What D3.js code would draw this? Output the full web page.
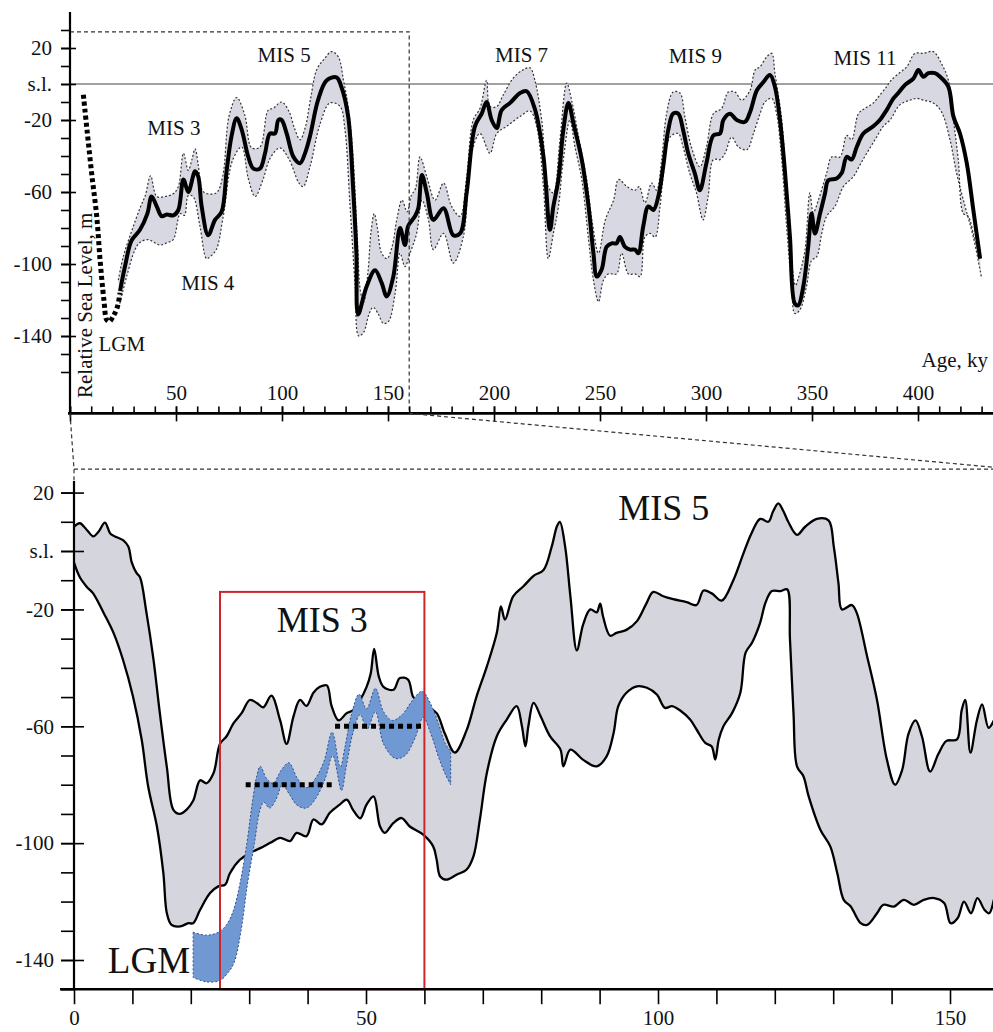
<!DOCTYPE html>
<html>
<head>
<meta charset="utf-8">
<script src="https://cdn.jsdelivr.net/npm/d3@7"></script>
<style>
  body { margin: 0; background: #ffffff; }
  svg { display: block; }
  text { font-family: "Liberation Serif", "Times New Roman", serif; fill: #111; }
</style>
</head>
<body>
<script>
// sea level curves, every point is [age in ky, relative sea level in m]

// upper panel: mean curve
var meanTop = [[23.6,-115],[26,-101],[29,-87],[33,-81],[36.5,-72],[38.5,-62.5],[40.9,-68],[43.3,-73.5],[45.6,-72.5],[48.7,-73],[51.1,-70],[53.5,-53],[55.8,-60],[59,-48.5],[60.5,-51.5],[62.1,-68],[65.2,-84],[68.4,-75.5],[71.5,-71],[73.9,-48],[76.2,-29],[78.6,-19],[81,-25.5],[84.1,-40.5],[86.5,-47],[89.6,-47],[92,-38.5],[94.3,-27.5],[96.7,-27.5],[98.3,-20],[99.8,-20],[102.2,-27.5],[105.4,-40.5],[108.5,-44],[111,-38],[113.2,-29],[117,-9],[121,2],[125.7,3.7],[128,-1.5],[131.2,-18],[133.5,-57],[135.1,-94],[135.9,-128],[139.9,-112.5],[143.9,-103.5],[147,-110.5],[149.4,-118],[152.5,-107],[155.7,-80],[158,-89.5],[159.5,-79],[162.7,-73.5],[164.3,-69],[166,-50.5],[168.3,-60.5],[171.4,-75.5],[176.2,-69],[180.8,-84],[184,-83],[187.1,-60.5],[191,-23.5],[194.2,-16.5],[196.5,-10],[198.9,-20],[201.3,-24.5],[203.6,-14.5],[207.6,-10.5],[212.3,-5],[215.4,-4],[219.3,-14],[223.3,-40],[226.4,-81],[228,-68],[230.4,-53],[232.7,-25.5],[235.1,-10.5],[237.4,-21.5],[241.4,-42],[244.6,-68],[246.9,-94],[248.5,-107],[250.8,-103],[253.1,-90.5],[255.5,-88.5],[257.8,-88.5],[259.4,-85],[261.8,-90.5],[264.2,-92],[266.5,-92],[268.1,-94],[270.4,-79],[272.8,-68],[275.2,-70],[277.5,-62.5],[279.8,-46],[282.2,-25.5],[284.5,-16.5],[286.9,-16.5],[289.2,-25.5],[291.6,-38.5],[294.7,-49.5],[297.1,-59],[300.2,-44],[303.5,-28.5],[306.6,-27.5],[308.2,-20],[311.3,-16.5],[314.5,-20],[318.4,-21],[320.8,-15.5],[324,-3.5],[327,1],[330.2,5],[332.5,-1.5],[334.9,-20],[337.2,-48],[339.6,-85],[341.9,-122],[343.5,-123],[345.9,-112.5],[348.2,-90.5],[349.8,-72],[351.4,-83],[353.8,-72],[356.1,-61],[357.7,-53.5],[361.6,-52.5],[364,-49.5],[366.4,-40.5],[368.7,-42],[371.1,-35],[374.2,-27.5],[378.9,-23.5],[382,-20],[385.2,-14.5],[388.4,-8],[390.7,-5],[393.9,-0.5],[397.8,3],[400.2,7.8],[402.5,4],[404.9,6],[408,6],[410.4,4],[414.3,-1.5],[416.7,-18],[419.8,-27.5],[423,-44],[426.1,-70],[429.3,-97]];

// upper panel: upper limit of the error band
var upperTop = [[22.8,-109],[25.1,-96],[29,-82],[33,-69],[35.5,-62],[38,-51],[40.9,-62.5],[44.8,-62.5],[48.7,-61],[51.1,-57],[53.5,-38.5],[55.8,-48],[57.5,-42],[59,-36],[60.5,-45],[62,-58],[63.6,-60.5],[69,-60.5],[72,-51.5],[75,-18],[78.6,-7.5],[82.4,-17],[85.7,-35.5],[89.6,-35],[93.5,-14.5],[95.9,-13.5],[99.8,-10],[103.4,-15.5],[106,-25],[108.5,-31],[111,-24],[113.5,-8],[116.4,8],[120,14],[123.4,18],[126.6,15],[129,2],[131.2,-12.5],[133.5,-40],[135.5,-85],[137,-115],[138.5,-121],[140.5,-105],[142,-82],[143.5,-72],[145,-80],[147,-94],[149.5,-97],[152,-90],[154.2,-75],[156.6,-64.5],[159,-71],[161,-62],[163,-58],[165.1,-40.5],[168.3,-51.5],[172.2,-64.5],[176.2,-55],[180,-68],[184,-73.5],[187.1,-51.5],[190.2,-20],[193.4,-13.5],[196.5,2],[198.1,-12.5],[201.3,-12.5],[204.4,-6],[209.1,3.3],[213.9,8],[217,9],[219.3,2],[222.5,-20],[225.6,-57],[228,-60.5],[231.1,-31],[234.3,0.5],[236.6,-9],[240,-30],[243.7,-53],[246.2,-75.5],[249.3,-94],[252.5,-75.5],[256.4,-64.5],[258.8,-53],[262.7,-57],[266.5,-59],[268.5,-57],[271.2,-66],[274.4,-55],[276.7,-59],[279.1,-42],[281.4,-16.5],[284.5,-4.5],[287.7,-5],[290,-18],[293.1,-35],[297.1,-46],[300.2,-35],[303.5,-16.5],[307.4,-13.5],[310.5,-4.5],[313.7,-4.5],[316.8,-9],[320.8,-3.5],[323.2,7.8],[325.5,9.6],[328.6,15],[331,17],[332.5,6],[335.7,-20],[338,-57],[340.4,-98],[342.2,-112],[343.5,-108],[346.6,-93],[349,-60.5],[350.6,-71.5],[353,-64.5],[356.9,-49.5],[359.3,-40.5],[363.2,-40.5],[366.4,-28.5],[368.7,-31],[371.9,-16.5],[375,-13.5],[379,-10.5],[382.1,-6],[385.2,-1.5],[386.8,1.3],[390,5],[394.7,9.6],[398.6,17],[402.5,17],[407.2,18],[411.1,11.3],[414.3,2.2],[416.7,-20],[419,-42],[421.4,-72],[423.7,-73.5],[426.1,-83],[429.3,-97]];

// upper panel: lower limit of the error band
var lowerTop = [[23.5,-122],[26.7,-107],[30.7,-92],[33,-88],[37,-86.5],[42.4,-89.5],[46,-88],[48.7,-86.5],[52,-72],[54,-73],[55.8,-62],[58,-62.5],[61.3,-79],[64.4,-97],[66,-96],[69,-92],[72,-75.5],[76.8,-42],[81,-35],[84.1,-52.5],[87.3,-62.5],[91.2,-52.5],[94.3,-41.5],[99,-35.5],[103.4,-42],[108,-55],[110,-57],[113.2,-46],[118,-22],[122.6,-10.5],[127.4,-12.5],[129.7,-25.5],[132,-66],[134.5,-112.5],[136.2,-140],[138.5,-138],[141,-128],[143,-124],[145.5,-128],[147.8,-133],[150.2,-132],[153.4,-116],[155.7,-94],[158,-101.5],[160.4,-94],[163.5,-83],[166,-64.5],[169.1,-75.5],[171.4,-92],[176.2,-83],[180.8,-99.5],[185.5,-85],[189.4,-38.5],[193.4,-27.5],[198.1,-38.5],[201.3,-27.5],[206,-23.5],[212.3,-18],[217,-15],[220.1,-23.5],[223.3,-57],[225.6,-97],[228,-83],[230.4,-68],[232.7,-42],[235.8,-20],[238.2,-35],[241.4,-53],[244.6,-86.5],[246.9,-109],[249.3,-121],[251.6,-109],[254,-105.5],[257.8,-105.5],[260.2,-94],[263.4,-105.5],[266.5,-105.5],[268.9,-107],[271.2,-85],[273.6,-83],[276,-85],[278.3,-68],[279.8,-51.5],[283,-29.5],[286.9,-27.5],[289.2,-35],[292.3,-49.5],[295.5,-60.5],[298.6,-75.5],[301,-62.5],[303.5,-42],[306.6,-42],[309,-38.5],[312.1,-29.5],[315.3,-35],[319.3,-36.5],[322.4,-27.5],[325.5,-16.5],[327.8,-10],[331,-8],[333.3,-16.5],[335.7,-42],[338,-79],[340.4,-112.5],[341.9,-127.5],[344.3,-125.5],[347.4,-112.5],[349.8,-98],[352.2,-96],[354.6,-83],[356.9,-73.5],[360.8,-68],[364.8,-57],[369.5,-51.5],[372.6,-45],[375.8,-38.5],[379.7,-31],[383.6,-23.5],[386.8,-20],[391.5,-11.5],[396.2,-9],[399.4,-8],[402.5,-9],[407.2,-10.5],[411.1,-15.5],[415.1,-31],[418.2,-49.5],[422.2,-68],[426.1,-85],[430,-108]];

// upper panel: dotted LGM drop
var lgmTop = [[6.3,-6],[8.2,-27.5],[10.2,-49.5],[12.6,-73.5],[14.2,-98],[16,-120],[17.3,-131],[18.5,-132],[20.4,-129],[22.3,-124],[23.6,-116]];

// lower panel: grey band, upper and lower line
var upperBot = [[0,8.3],[1,9.5],[2.2,7.2],[3.3,5],[4.2,6.6],[5.3,9.7],[6.2,6],[7,5],[8.4,3.7],[9.3,1.5],[9.9,-4],[10.7,-7.5],[11.3,-9],[12.4,-21],[13.6,-37],[14.7,-55.5],[15.9,-74],[17,-88.5],[18.1,-90],[19.3,-88.5],[20.4,-85.5],[21.6,-78.5],[22.7,-79.5],[23.9,-76],[25,-66],[26.1,-63.5],[27.3,-59],[28.7,-55.5],[30.1,-51],[31.3,-52],[32.4,-53.5],[33.8,-49.5],[35.3,-58],[36.4,-66],[37.6,-56.5],[38.7,-51],[39.8,-53],[41,-48.5],[42.1,-46.5],[43.3,-46],[44.1,-53],[45.3,-58],[46.7,-55.5],[47.8,-54.5],[49,-51],[50.1,-46.5],[50.8,-42],[51.4,-33.5],[52.2,-43],[53,-46.5],[54.7,-47.5],[55.8,-43.5],[57.2,-44],[58.1,-50],[59.2,-51.5],[60.7,-53.5],[62.1,-55.5],[63.5,-62.5],[65.2,-69],[67.2,-61.5],[68.9,-50],[70.7,-39.5],[72.4,-28],[73.1,-19],[73.8,-23.5],[75.2,-15.5],[77,-12],[78.7,-8.5],[80.4,-6.5],[81.8,1.5],[82.7,8.5],[83.2,10],[84.1,1.5],[85,-15.5],[86.1,-34],[87.2,-25],[88.4,-20],[89.5,-21],[90.1,-18],[90.6,-22.5],[91.8,-29],[92.9,-28],[94.6,-27],[96.4,-24],[98,-18],[99.2,-14],[100.9,-15.5],[102.6,-16.5],[104.9,-17.5],[106.6,-18.5],[107.8,-13.5],[109.2,-14.5],[110.9,-17],[112.9,-10],[114.6,-1],[116,6],[117.5,11],[118.9,10],[119.7,13.5],[120.6,16.3],[121.5,13.5],[122.3,10],[123.8,5.5],[125.2,8.3],[127.2,11],[129.2,10.5],[130.1,1.5],[130.9,-11],[131.5,-20],[133.2,-18.5],[134,-21],[135.8,-36],[137.5,-51],[139.2,-71.5],[140.6,-80],[141.8,-75],[142.9,-62.5],[144.1,-58],[145.2,-63.5],[146.6,-75.5],[148,-69.5],[149.4,-65],[151.2,-64.5],[152,-54.5],[152.6,-51],[153.5,-69],[154.6,-58],[155.5,-52.5],[156.6,-60.5],[157.5,-58]];

var lowerBot = [[0,-4],[1,-9],[2.2,-12.3],[3.3,-14.6],[5.1,-21.3],[6.8,-28.2],[8.4,-37.3],[10.1,-49.8],[11.6,-64.7],[12.7,-80.6],[14.2,-94.3],[15.3,-110.3],[15.9,-124],[16.7,-128],[18.2,-128.5],[19.6,-127.4],[20.4,-127.4],[21.6,-122.8],[23.3,-117.1],[24.7,-114.8],[25.9,-114.2],[26.7,-110.3],[28.4,-105.7],[30.1,-103.4],[31.9,-101.7],[33.6,-99.9],[35.3,-98.2],[37,-99.3],[38.1,-96.5],[39.8,-97.6],[41,-91.9],[42.4,-93.6],[43.8,-89.6],[45.5,-86.8],[46.7,-85.1],[47.8,-88.7],[49,-91.5],[50.1,-86.8],[51.3,-84],[52.4,-94.3],[53.2,-96.5],[54.7,-93.1],[56.1,-91.4],[57.5,-94.3],[59.8,-97.1],[61.5,-101.1],[62.1,-105.7],[62.7,-111.4],[63.8,-112.5],[65.5,-110.8],[67.2,-109.1],[68.4,-104.5],[69.5,-91.9],[70.7,-75.9],[72.4,-63.4],[74.1,-57.7],[75.8,-53.1],[76.7,-60],[77.3,-66.9],[77.8,-60],[78.7,-52],[79.9,-56.6],[81.5,-63.4],[83.3,-68],[83.8,-73.7],[85,-68],[87.2,-71.5],[89.5,-73.7],[91.2,-70.3],[92.4,-62.3],[93.2,-53.1],[94.6,-48.5],[96.4,-46.3],[98.1,-46.8],[99.8,-49.1],[101.2,-53.7],[102.4,-53.1],[103.8,-54.6],[105.5,-57.7],[106.6,-61.1],[108.1,-65.7],[109.2,-66.9],[109.8,-71.4],[110.4,-64.6],[111.2,-60],[112.7,-55.4],[114.1,-48.5],[115,-34.8],[116.1,-31.4],[117.5,-24.5],[118.4,-17.7],[119.5,-13.7],[121,-13.7],[122.1,-13.1],[122.6,-30.3],[123.2,-55.4],[123.8,-73.7],[124.9,-77.1],[125.8,-84],[127.8,-95.4],[129.5,-101.1],[130.7,-110.3],[131.8,-119.4],[133,-121.7],[134.7,-127.4],[135.8,-128],[137.5,-124],[138.6,-121.1],[140.4,-121.7],[142.1,-119.4],[143.8,-121.1],[145.5,-119.4],[147.3,-118.8],[149,-120.5],[150.1,-127.4],[151.3,-125.7],[152.4,-120],[153.6,-124],[154.7,-118.8],[155.9,-122.8],[156.7,-124],[157.5,-119.4]];

// lower panel: blue MIS 3 band
var blueUpper = [[20.4,-130.5],[22.7,-131.5],[24.7,-130.5],[26.1,-128],[27.3,-123],[28.4,-114],[29.6,-100],[30.4,-88],[31.3,-77],[31.9,-73.7],[33,-78],[34.1,-79.5],[35.5,-75],[36.8,-72.5],[38.3,-78],[39.8,-81],[41.3,-78],[42.8,-72],[44.2,-62],[45.6,-74],[46.4,-67],[47.5,-56],[48.8,-49],[50.1,-54],[51.6,-47],[53,-55],[54.5,-58],[56.2,-56],[58,-51],[59.6,-48],[61,-52],[62.4,-59],[63.6,-66],[64.5,-68.5]];
var blueLower = [[20.4,-146],[22.7,-147.5],[25,-147],[26.3,-144.5],[27.4,-141],[28.6,-130],[29.7,-114],[30.9,-100],[31.8,-89],[32.5,-86],[33.5,-88],[34.6,-85],[35.7,-80],[36.8,-83],[38.2,-87],[39.8,-88],[41.3,-85],[43,-78],[44.3,-70],[45.8,-82],[46.6,-74],[47.8,-62],[49,-56],[50.2,-61],[51.6,-55],[53,-66],[55,-71],[56.7,-70],[58.4,-64],[59.8,-57],[61,-62],[62.5,-71],[63.6,-76.5],[64.5,-80]];

// dotted MIS 3 levels: [start age, end age, level]
var mis3Levels = [[29.4, 44.7, -80], [44.7, 60, -60]];

// MIS 3 frame: [age from, age to, level top, level bottom]
var mis3Box = [25, 60, -14, -150];

// tick values
var topMinorY = d3.range(30, -170, -10);
var topMajorY = [20, 0, -20, -60, -100, -140];
var topMinorX = d3.range(0, 440, 10);
var topMajorX = d3.range(0, 450, 50);
var botMinorY = d3.range(20, -160, -10);
var botMajorY = [20, 0, -20, -60, -100, -140];
var botX = d3.range(0, 160, 10);

// stage labels: [text, age, level]
var topLabels = [["MIS 5", 101, 12], ["MIS 3", 49, -28.5], ["MIS 4", 65, -114.5], ["MIS 7", 213, 12], ["MIS 9", 295, 11.5], ["MIS 11", 375, 10.5]];
var botLabels = [["MIS 3", 42.5, -27.8], ["MIS 5", 101, 10.6]];


var W = 993, H = 1032;
var serif = "'Liberation Serif', 'Times New Roman', serif";

var svg = d3.select("body")
            .append("svg")
            .attr("width", W)
            .attr("height", H);

// scales of the two panels
var xTop = d3.scaleLinear().domain([0, 50]).range([70, 176]);
var yTop = d3.scaleLinear().domain([0, -140]).range([84, 336]);
var xBot = d3.scaleLinear().domain([0, 50]).range([74, 366]);
var yBot = d3.scaleLinear().domain([0, -140]).range([551, 960]);

function slLabel(d){
  return d === 0 ? "s.l." : d;
}

function closedBand(line, upper, lower){
  // upper edge forward, lower edge back, then close
  return line(upper) + line(lower.slice().reverse()).replace("M", "L") + "Z";
}

// ---------- upper panel ----------
var lineTop = d3.line()
                .x(function(d){ return xTop(d[0]); })
                .y(function(d){ return yTop(d[1]); })
                .curve(d3.curveCatmullRom.alpha(0.5));

// sea level line
svg.append("line")
   .attr("x1", xTop(0)).attr("x2", W)
   .attr("y1", yTop(0)).attr("y2", yTop(0))
   .attr("stroke", "#444").attr("stroke-width", 1.2);

// error band
svg.append("path")
   .attr("d", closedBand(lineTop, upperTop, lowerTop))
   .attr("fill", "#d8d8e2");

[upperTop, lowerTop].forEach(function(edge){
  svg.append("path")
     .attr("d", lineTop(edge))
     .attr("fill", "none")
     .attr("stroke", "#333")
     .attr("stroke-width", 1.2)
     .attr("stroke-dasharray", "2,2");
});

// mean curve
svg.append("path")
   .attr("d", lineTop(meanTop))
   .attr("fill", "none")
   .attr("stroke", "#000")
   .attr("stroke-width", 4)
   .attr("stroke-linejoin", "round");

// LGM drop, thick dotted
svg.append("path")
   .attr("d", lineTop(lgmTop))
   .attr("fill", "none")
   .attr("stroke", "#000")
   .attr("stroke-width", 5)
   .attr("stroke-dasharray", "4,3");

// dashed zoom frame around the first 160 ky
svg.append("rect")
   .attr("x", xTop(0))
   .attr("y", yTop(29))
   .attr("width", xTop(160) - xTop(0))
   .attr("height", yTop(-183) - yTop(29))
   .attr("fill", "none")
   .attr("stroke", "#333")
   .attr("stroke-width", 1.2)
   .attr("stroke-dasharray", "4,3");

// y axis
svg.append("line")
   .attr("x1", xTop(0)).attr("x2", xTop(0))
   .attr("y1", 12).attr("y2", yTop(-183))
   .attr("stroke", "#000").attr("stroke-width", 2.2);

var gTopMinorY = svg.append("g")
   .attr("transform", "translate(" + xTop(0) + ",0)")
   .call(d3.axisLeft(yTop).tickValues(topMinorY).tickSize(9).tickFormat(""));

var gTopMajorY = svg.append("g")
   .attr("transform", "translate(" + (xTop(0) + 6) + ",0)")
   .call(d3.axisLeft(yTop).tickValues(topMajorY).tickSize(15).tickPadding(9).tickFormat(slLabel));

// x axis
svg.append("line")
   .attr("x1", xTop(0) - 2).attr("x2", W)
   .attr("y1", yTop(-183)).attr("y2", yTop(-183))
   .attr("stroke", "#000").attr("stroke-width", 2.6);

var gTopMinorX = svg.append("g")
   .attr("transform", "translate(0," + yTop(-183) + ")")
   .call(d3.axisTop(xTop).tickValues(topMinorX).tickSize(7).tickFormat(""));

var gTopMajorX = svg.append("g")
   .attr("transform", "translate(0," + (yTop(-183) + 8) + ")")
   .call(d3.axisTop(xTop).tickValues(topMajorX).tickSize(15).tickPadding(6)
          .tickFormat(function(d){ return d === 0 ? "" : d; }));

// labels of the upper panel
svg.selectAll(".topLabel")
   .data(topLabels)
   .enter()
   .append("text")
   .attr("class", "topLabel")
   .attr("x", function(d){ return xTop(d[1]); })
   .attr("y", function(d){ return yTop(d[2]); })
   .attr("text-anchor", "middle")
   .style("font-size", "21px")
   .text(function(d){ return d[0]; });

svg.append("text")
   .attr("x", xTop(13.4))
   .attr("y", yTop(-148.5))
   .style("font-size", "21px")
   .text("LGM");

svg.append("text")
   .attr("x", 988)
   .attr("y", 367)
   .attr("text-anchor", "end")
   .style("font-size", "21px")
   .text("Age, ky");

svg.append("text")
   .attr("transform", "translate(92,398) rotate(-90)")
   .style("font-size", "21px")
   .text("Relative Sea Level, m");

// ---------- connection between the panels ----------
var frameTop = yBot(28);
var connectors = [
  [[xTop(0), yTop(-183)], [xBot(0), frameTop], [xBot(0), yBot(24)]],
  [[xBot(0), frameTop], [W, frameTop]],
  [[xTop(160), yTop(-183)], [W, frameTop - 2]]
];
connectors.forEach(function(pts){
  svg.append("path")
     .attr("d", d3.line()(pts))
     .attr("fill", "none")
     .attr("stroke", "#333")
     .attr("stroke-width", 1.2)
     .attr("stroke-dasharray", "4,3");
});

// ---------- lower panel ----------
var lineBot = d3.line()
                .x(function(d){ return xBot(d[0]); })
                .y(function(d){ return yBot(d[1]); })
                .curve(d3.curveCatmullRom.alpha(0.5));

svg.append("path")
   .attr("d", closedBand(lineBot, upperBot, lowerBot))
   .attr("fill", "#d5d5de");

[upperBot, lowerBot].forEach(function(edge){
  svg.append("path")
     .attr("d", lineBot(edge))
     .attr("fill", "none")
     .attr("stroke", "#000")
     .attr("stroke-width", 2.3)
     .attr("stroke-linejoin", "round");
});

// blue MIS 3 band
svg.append("path")
   .attr("d", closedBand(lineBot, blueUpper, blueLower))
   .attr("fill", "#7098d2")
   .attr("stroke", "#2b4f8f")
   .attr("stroke-width", 1)
   .attr("stroke-dasharray", "2,2");

// dotted MIS 3 levels
svg.selectAll(".level")
   .data(mis3Levels)
   .enter()
   .append("line")
   .attr("class", "level")
   .attr("x1", function(d){ return xBot(d[0]); })
   .attr("x2", function(d){ return xBot(d[1]); })
   .attr("y1", function(d){ return yBot(d[2]); })
   .attr("y2", function(d){ return yBot(d[2]); })
   .attr("stroke", "#000")
   .attr("stroke-width", 5)
   .attr("stroke-dasharray", "5,4");

// red MIS 3 frame
svg.append("rect")
   .attr("x", xBot(mis3Box[0]))
   .attr("y", yBot(mis3Box[2]))
   .attr("width", xBot(mis3Box[1]) - xBot(mis3Box[0]))
   .attr("height", yBot(mis3Box[3]) - yBot(mis3Box[2]))
   .attr("fill", "none")
   .attr("stroke", "#d0242c")
   .attr("stroke-width", 2);

// y axis
svg.append("line")
   .attr("x1", xBot(0)).attr("x2", xBot(0))
   .attr("y1", yBot(24)).attr("y2", yBot(-150))
   .attr("stroke", "#000").attr("stroke-width", 2.2);

var gBotMinorY = svg.append("g")
   .attr("transform", "translate(" + xBot(0) + ",0)")
   .call(d3.axisLeft(yBot).tickValues(botMinorY).tickSize(13).tickFormat(""));

var gBotMajorY = svg.append("g")
   .attr("transform", "translate(" + (xBot(0) + 10) + ",0)")
   .call(d3.axisLeft(yBot).tickValues(botMajorY).tickSize(23).tickPadding(7).tickFormat(slLabel));

// x axis
svg.append("line")
   .attr("x1", xBot(0) - 14).attr("x2", W)
   .attr("y1", yBot(-150)).attr("y2", yBot(-150))
   .attr("stroke", "#000").attr("stroke-width", 2.6);

var gBotX = svg.append("g")
   .attr("transform", "translate(0," + yBot(-150) + ")")
   .call(d3.axisBottom(xBot).tickValues(botX).tickSize(15).tickPadding(6)
          .tickFormat(function(d){ return d % 50 === 0 ? d : ""; }));

// big labels of the lower panel
svg.selectAll(".botLabel")
   .data(botLabels)
   .enter()
   .append("text")
   .attr("class", "botLabel")
   .attr("x", function(d){ return xBot(d[1]); })
   .attr("y", function(d){ return yBot(d[2]); })
   .attr("text-anchor", "middle")
   .style("font-size", "36px")
   .text(function(d){ return d[0]; });

svg.append("text")
   .attr("x", xBot(5.8))
   .attr("y", yBot(-144.5))
   .style("font-size", "37px")
   .text("LGM");

// style all axes the same way
[gTopMinorY, gTopMajorY, gTopMinorX, gTopMajorX, gBotMinorY, gBotMajorY, gBotX].forEach(function(g){
  g.select(".domain").remove();
  g.selectAll("line").attr("stroke", "#000").attr("stroke-width", 1.6);
  g.selectAll("text")
   .attr("fill", "#111")
   .style("font-family", serif)
   .style("font-size", "21px");
});
</script>
</body>
</html>
